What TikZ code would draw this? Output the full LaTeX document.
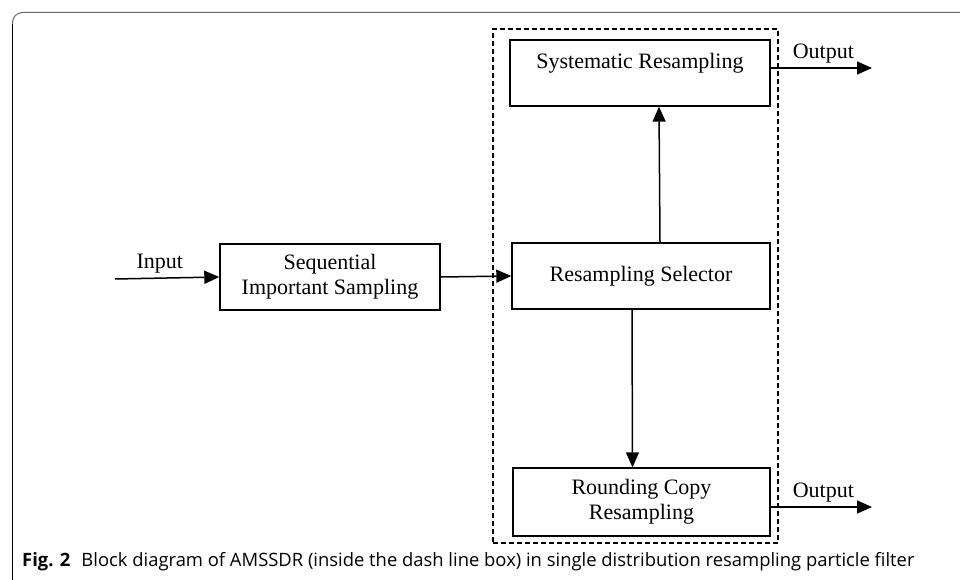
\documentclass[tikz,border=0pt]{standalone}
\usepackage{fontspec}
\setmainfont{Liberation Serif}
\newfontfamily\capfont{Open Sans}
\usetikzlibrary{fit}
\usetikzlibrary{calc}
\usetikzlibrary{arrows.meta}

\begin{document}
\begin{tikzpicture}[x=1pt,y=-1pt,
  block/.style={draw, line width=1.4pt, rectangle, minimum width=258pt, minimum height=66pt, align=center, font=\fontsize{22}{25}\selectfont},
  dashbox/.style={draw, dash pattern=on 5pt off 3pt, line width=1.3pt, rectangle},
  arr/.style={line width=1.5pt, -{Triangle[length=15pt,width=13pt]}},
  txt/.style={font=\fontsize{22}{25}\selectfont, inner sep=0pt},
]
\useasboundingbox (0,0) rectangle (960,580);

% outer frame
\draw[black, line width=1pt] (12.5,585) -- (12.5,24);
\draw[black!60, line width=1pt, rounded corners=10pt] (12.5,24) -- (12.5,12.5) -- (965,12.5);

\begin{scope}[inner sep=0pt, outer sep=0pt]
  \node (amssdr) [dashbox, fit={(493,29) (778,543)}] {};
\end{scope}

\node (sis) [block, minimum width=220pt] at (330,277) {Sequential\\Important Sampling};
\node (selector) [block] at (641,276) {Resampling Selector};
\node (sysres) [block, minimum width=260pt] at (640,73) {Systematic Resampling\\[0pt]\phantom{R}};
\node (rcr) [block, minimum width=257pt, minimum height=68pt] at (641.5,502) {Rounding Copy\\Resampling};

\coordinate (in) at (115,279);
\coordinate (out1) at (872,68);
\coordinate (out2) at (872,507);

\draw[arr] (in) -- node[txt, above=4pt, pos=0.43] (inlabel) {Input} (sis.west);
\draw[arr] (sis.east) -- (selector.west);
\draw[arr] ([xshift=19pt]selector.north) -- ([xshift=19pt]sysres.south);
\draw[arr] ([xshift=-9pt]selector.south) -- ([xshift=-9pt]rcr.north);
\draw[arr] ([yshift=5pt]sysres.east) -- node[txt, above=4pt, pos=0.52] (outlabel1) {Output} (out1);
\draw[arr] ([yshift=-5pt]rcr.east) -- node[txt, above=4pt, pos=0.52] (outlabel2) {Output} (out2);

\node (caption) [anchor=west, inner sep=0pt, font=\capfont\fontsize{18.4}{21}\selectfont] at (22,562)
  {\textbf{Fig. 2}\hspace{0.6em}Block diagram of AMSSDR (inside the dash line box) in single distribution resampling particle filter};
\end{tikzpicture}
\end{document}
